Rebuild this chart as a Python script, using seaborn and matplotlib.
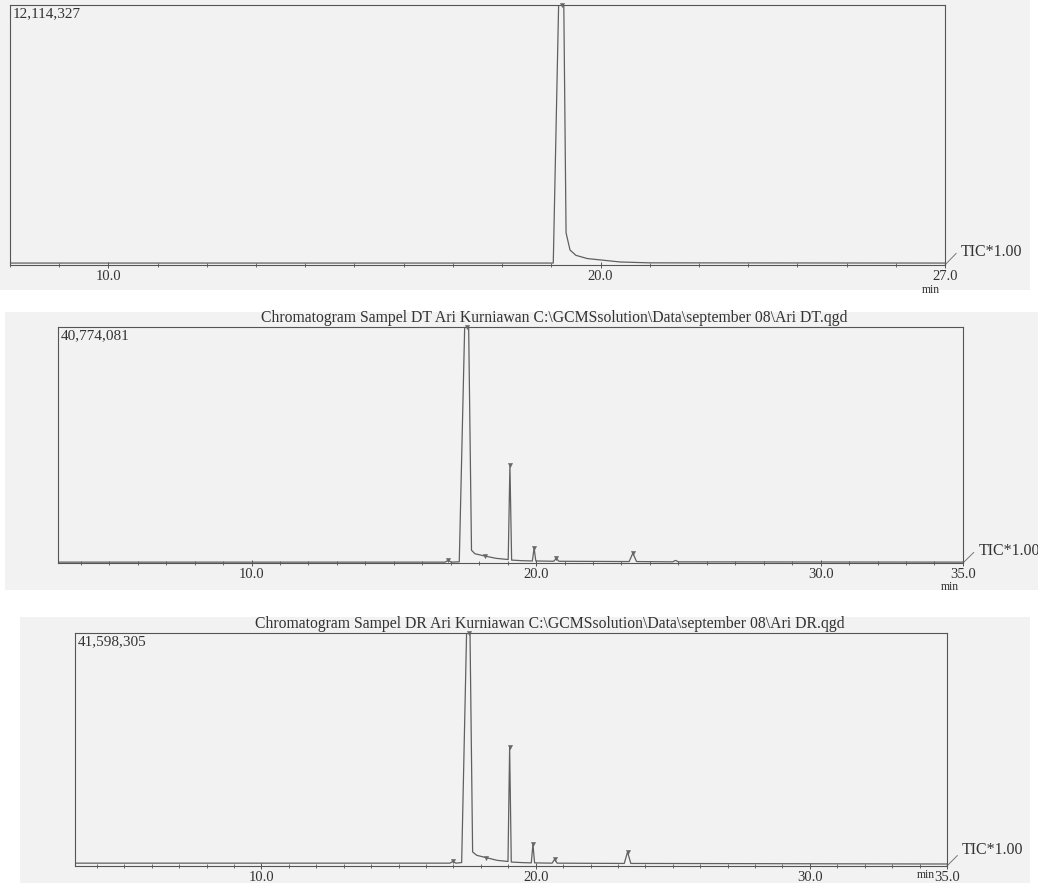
import matplotlib
matplotlib.use("Agg")
import matplotlib.pyplot as plt
from matplotlib.patches import Rectangle
from matplotlib.ticker import MultipleLocator
import seaborn as sns
import pandas as pd

# --- data (time in min, intensity in counts) ---
full_scale = [12114327, 40774081, 41598305]
titles = [
    "",
    "Chromatogram Sampel DT Ari Kurniawan C:\\GCMSsolution\\Data\\september 08\\Ari DT.qgd",
    "Chromatogram Sampel DR Ari Kurniawan C:\\GCMSsolution\\Data\\september 08\\Ari DR.qgd",
]
x_ranges = [(8.0, 27.0), (3.2, 35.0), (3.2, 35.0)]
tick_vals = [[10.0, 20.0, 27.0], [10.0, 20.0, 30.0, 35.0], [10.0, 20.0, 30.0, 35.0]]

time_a = [8.0, 19.04, 19.22, 19.30, 19.38, 19.50, 19.73, 20.40, 21.0, 27.0]
tic_a = [0.09e6, 0.09e6, 20.0e6, 1.5e6, 0.7e6, 0.45e6, 0.3e6, 0.14e6, 0.1e6, 0.09e6]

time_b = [3.2, 16.80, 16.91, 17.02, 17.30, 17.58, 17.73, 17.85, 18.20, 18.60, 19.02,
          19.08, 19.14, 19.50, 19.87, 19.93, 19.99, 20.62, 20.71, 20.80, 23.27,
          23.40, 23.53, 24.80, 24.90, 25.00, 35.0]
tic_b = [0.15e6, 0.15e6, 0.45e6, 0.15e6, 0.2e6, 60.0e6, 2.2e6, 1.6e6, 1.2e6, 0.8e6, 0.6e6,
         16.9e6, 0.5e6, 0.4e6, 0.35e6, 2.6e6, 0.35e6, 0.3e6, 0.8e6, 0.3e6, 0.25e6,
         1.7e6, 0.25e6, 0.2e6, 0.45e6, 0.2e6, 0.15e6]

time_c = [3.2, 16.87, 16.98, 17.09, 17.30, 17.56, 17.70, 17.85, 18.18, 18.60, 18.99,
          19.05, 19.11, 19.50, 19.84, 19.90, 19.96, 20.60, 20.69, 20.78, 23.23,
          23.35, 23.47, 35.0]
tic_c = [0.5e6, 0.5e6, 0.8e6, 0.5e6, 0.6e6, 60.0e6, 2.5e6, 1.9e6, 1.5e6, 1.0e6, 0.8e6,
         21.2e6, 0.7e6, 0.6e6, 0.55e6, 3.9e6, 0.55e6, 0.5e6, 1.2e6, 0.5e6, 0.45e6,
         2.5e6, 0.45e6, 0.35e6]

# integrated peak labels (top of each peak)
peaks_a = [19.22]
peaks_b = [16.91, 17.58, 18.20, 19.08, 19.93, 20.71, 23.40]
peaks_c = [16.98, 17.56, 18.18, 19.05, 19.90, 20.69, 23.35]

series = [(time_a, tic_a, peaks_a), (time_b, tic_b, peaks_b), (time_c, tic_c, peaks_c)]

# layout in figure fractions (axes box and scanned paper patch)
axes_boxes = [
    [0.0096, 0.6999, 0.9008, 0.2944],
    [0.0559, 0.3624, 0.8718, 0.2673],
    [0.0723, 0.0193, 0.8400, 0.2638],
]
paper_boxes = [
    [0.0, 0.6716, 0.992, 0.3284],
    [0.0048, 0.3318, 0.995, 0.3148],
    [0.0193, 0.0, 0.973, 0.3012],
]
title_x = [0.5, 0.548, 0.544]
# where the "min" unit sits, offset in points from the lower right corner
min_offset = [(-4, -14), (-3, -13), (-9, -2.5)]
tic_y = [0.05, 0.052, 0.068]

sns.set_style("white")
plt.rcParams["font.family"] = ["Liberation Serif", "DejaVu Serif"]

ink = "#555555"
txt = "#333333"
paper = "#f2f2f2"

fig = plt.figure(figsize=(10.38, 8.83), dpi=100)

for pb in paper_boxes:
    fig.patches.append(Rectangle((pb[0], pb[1]), pb[2], pb[3], transform=fig.transFigure,
                                 facecolor=paper, edgecolor="none", zorder=-5))


def draw_panel(ax, i, t, y, peaks):
    fs = full_scale[i]
    df = pd.DataFrame({"time": t, "tic": y})
    sns.lineplot(data=df, x="time", y="tic", ax=ax, color="#606060", lw=0.9,
                 sort=False, estimator=None)

    # peak markers sitting on the apex (clipped ones go to the frame top)
    lookup = dict(zip(t, y))
    tops = [min(lookup[p], fs) for p in peaks]
    mk = pd.DataFrame({"time": peaks, "tic": tops})
    sns.scatterplot(data=mk, x="time", y="tic", ax=ax, marker="v", s=10,
                    color="#666666", edgecolor="#666666", clip_on=False, zorder=3)

    ticks = tick_vals[i]
    ax.set_xlim(*x_ranges[i])
    ax.set_ylim(0, fs)
    ax.set_facecolor("none")
    ax.set_xlabel("")
    ax.set_ylabel("")
    ax.set_yticks([])
    ax.set_xticks(ticks)
    ax.set_xticklabels([f"{v:.1f}" for v in ticks])
    ax.xaxis.set_minor_locator(MultipleLocator(1.0))
    ax.tick_params(axis="x", which="major", direction="inout", length=5, width=0.7,
                   colors=ink, labelcolor=txt, labelsize=10.5, pad=1, bottom=True)
    ax.tick_params(axis="x", which="minor", direction="inout", length=3, width=0.6,
                   colors=ink, bottom=True)
    for sp in ax.spines.values():
        sp.set_visible(True)
        sp.set_color(ink)
        sp.set_linewidth(0.8)

    ax.text(0.003, 0.99, f"{fs:,}", transform=ax.transAxes, ha="left", va="top",
            fontsize=11, color=txt)
    ax.annotate("min", xy=(1.0, 0.0), xycoords="axes fraction",
                xytext=min_offset[i], textcoords="offset points",
                ha="right", va="top", fontsize=8.5, color=txt)
    if titles[i]:
        ax.text(title_x[i], 1.006, titles[i], transform=ax.transAxes, ha="center",
                va="bottom", fontsize=11.3, color=txt)

    # TIC*1.00 leader from the lower right corner
    ax.plot([1.0, 1.012], [0.0, 0.045], transform=ax.transAxes, color="#777777",
            lw=0.7, clip_on=False)
    ax.text(1.017, tic_y[i], "TIC*1.00", transform=ax.transAxes, ha="left", va="center",
            fontsize=11.5, color=txt)


for i, (t, y, peaks) in enumerate(series):
    ax = fig.add_axes(axes_boxes[i])
    draw_panel(ax, i, t, y, peaks)

fig.savefig("out.png", dpi=100)
